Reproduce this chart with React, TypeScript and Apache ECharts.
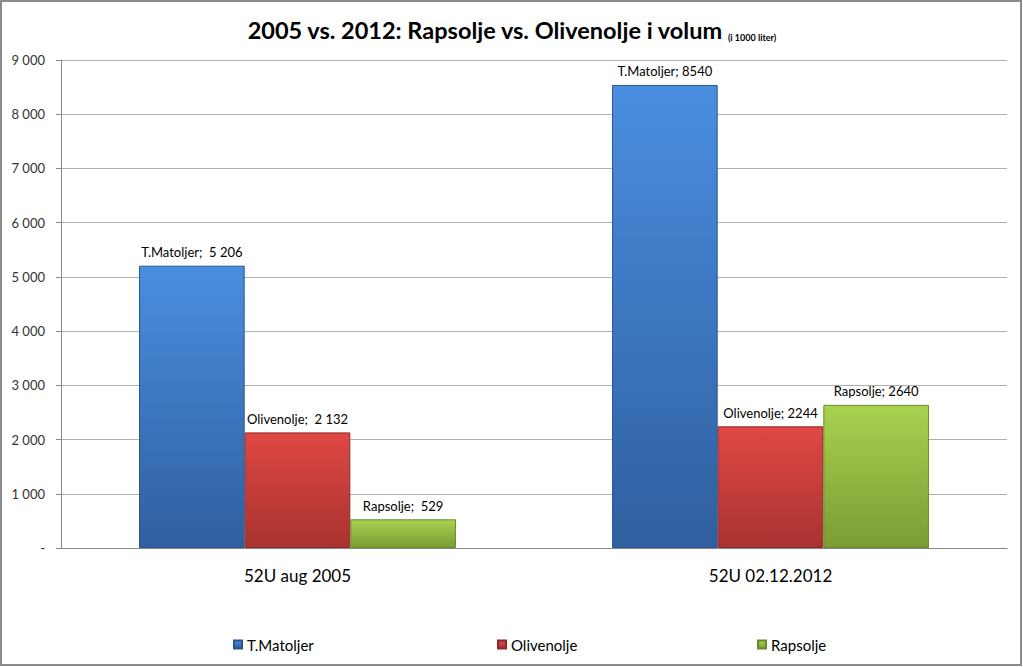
import React, { useEffect, useRef } from "react";
import * as echarts from "echarts";

const categories = ["52U aug 2005", "52U 02.12.2012"];
const seriesNames = ["T.Matoljer", "Olivenolje", "Rapsolje"];
const matoljer = [5206, 8540];
const olivenolje = [2132, 2244];
const rapsolje = [529, 2640];
const matoljerLabels = ["T.Matoljer;  5 206", "T.Matoljer; 8540"];
const olivenoljeLabels = ["Olivenolje;  2 132", "Olivenolje; 2244"];
const rapsoljeLabels = ["Rapsolje;  529", "Rapsolje; 2640"];

const FONT = "Lato, 'Open Sans', sans-serif";

const grad = (top: string, bottom: string) =>
  new echarts.graphic.LinearGradient(0, 0, 0, 1, [
    { offset: 0, color: top },
    { offset: 1, color: bottom },
  ]);

const fmtTick = (v: number) => {
  if (v === 0) return "-";
  return String(v).replace(/\B(?=(\d{3})+(?!\d))/g, " ");
};

export default function App() {
  const ref = useRef<HTMLDivElement>(null);
  useEffect(() => {
    if (!ref.current) return;
    const chart = echarts.init(ref.current, undefined, { renderer: "svg" });
    const colors = [
      { top: "#4a8ee0", bottom: "#2f5f9f", border: "#2a5590", legend: "#3f7fd0" },
      { top: "#e04844", bottom: "#a83230", border: "#8c2a28", legend: "#cc3c38" },
      { top: "#a9d250", bottom: "#7b9c34", border: "#6a8a2a", legend: "#98c040" },
    ];
    const values = [matoljer, olivenolje, rapsolje];
    const labels = [matoljerLabels, olivenoljeLabels, rapsoljeLabels];
    const legendLefts = [233, 497, 757];
    chart.setOption({
      animation: false,
      backgroundColor: "#ffffff",
      title: {
        text: "{main|2005 vs. 2012: Rapsolje vs. Olivenolje i volum} {sub|(i 1000 liter)}",
        left: "center",
        top: 13,
        textStyle: {
          rich: {
            main: { fontFamily: FONT, fontWeight: "bold", fontSize: 23.5, color: "#000" },
            sub: { fontFamily: FONT, fontWeight: "bold", fontSize: 9, color: "#000", verticalAlign: "bottom" },
          },
        },
      },
      legend: seriesNames.map((n, i) => ({
        data: [n],
        left: legendLefts[i],
        top: 637,
        padding: 0,
        itemWidth: 8,
        itemHeight: 8,
        itemGap: 3,
        icon: "rect",
        textStyle: { fontFamily: FONT, fontSize: 15, color: "#000" },
      })),
      grid: { left: 61, right: 16, top: 60, bottom: 119 },
      xAxis: {
        type: "category",
        data: categories,
        axisLine: { lineStyle: { color: "#888", width: 1 } },
        axisTick: { show: false },
        axisLabel: { fontFamily: FONT, fontSize: 17, color: "#000", margin: 19 },
      },
      yAxis: {
        type: "value",
        min: 0,
        max: 9000,
        interval: 1000,
        axisLine: { show: true, lineStyle: { color: "#888" } },
        axisTick: { show: true, length: 5, lineStyle: { color: "#888" } },
        splitLine: { lineStyle: { color: "#b0b0b0", width: 1 } },
        axisLabel: {
          fontFamily: FONT,
          fontSize: 13,
          color: "#333",
          margin: 16,
          formatter: (v: number) => fmtTick(v),
        },
      },
      series: seriesNames.map((n, i) => ({
        name: n,
        type: "bar",
        barGap: "0%",
        barCategoryGap: "33%",
        itemStyle: {
          color: grad(colors[i].top, colors[i].bottom),
          borderColor: colors[i].border,
          borderWidth: 1,
        },
        label: {
          show: true,
          position: "top",
          distance: 7,
          fontFamily: FONT,
          fontSize: 13,
          color: "#000",
          formatter: (p: any) => labels[i][p.dataIndex],
        },
        data: values[i],
      })),
      color: colors.map((c) => c.legend),
      graphic: [
        {
          type: "rect",
          shape: { x: 1, y: 1, width: 1020, height: 664 },
          style: { fill: "none", stroke: "#8a8a8a", lineWidth: 2 },
          silent: true,
        },
      ],
    });
    return () => chart.dispose();
  }, []);
  return (
    <div
      ref={ref}
      style={{ position: "fixed", left: 0, top: 0, width: 1023, height: 667 }}
    />
  );
}
